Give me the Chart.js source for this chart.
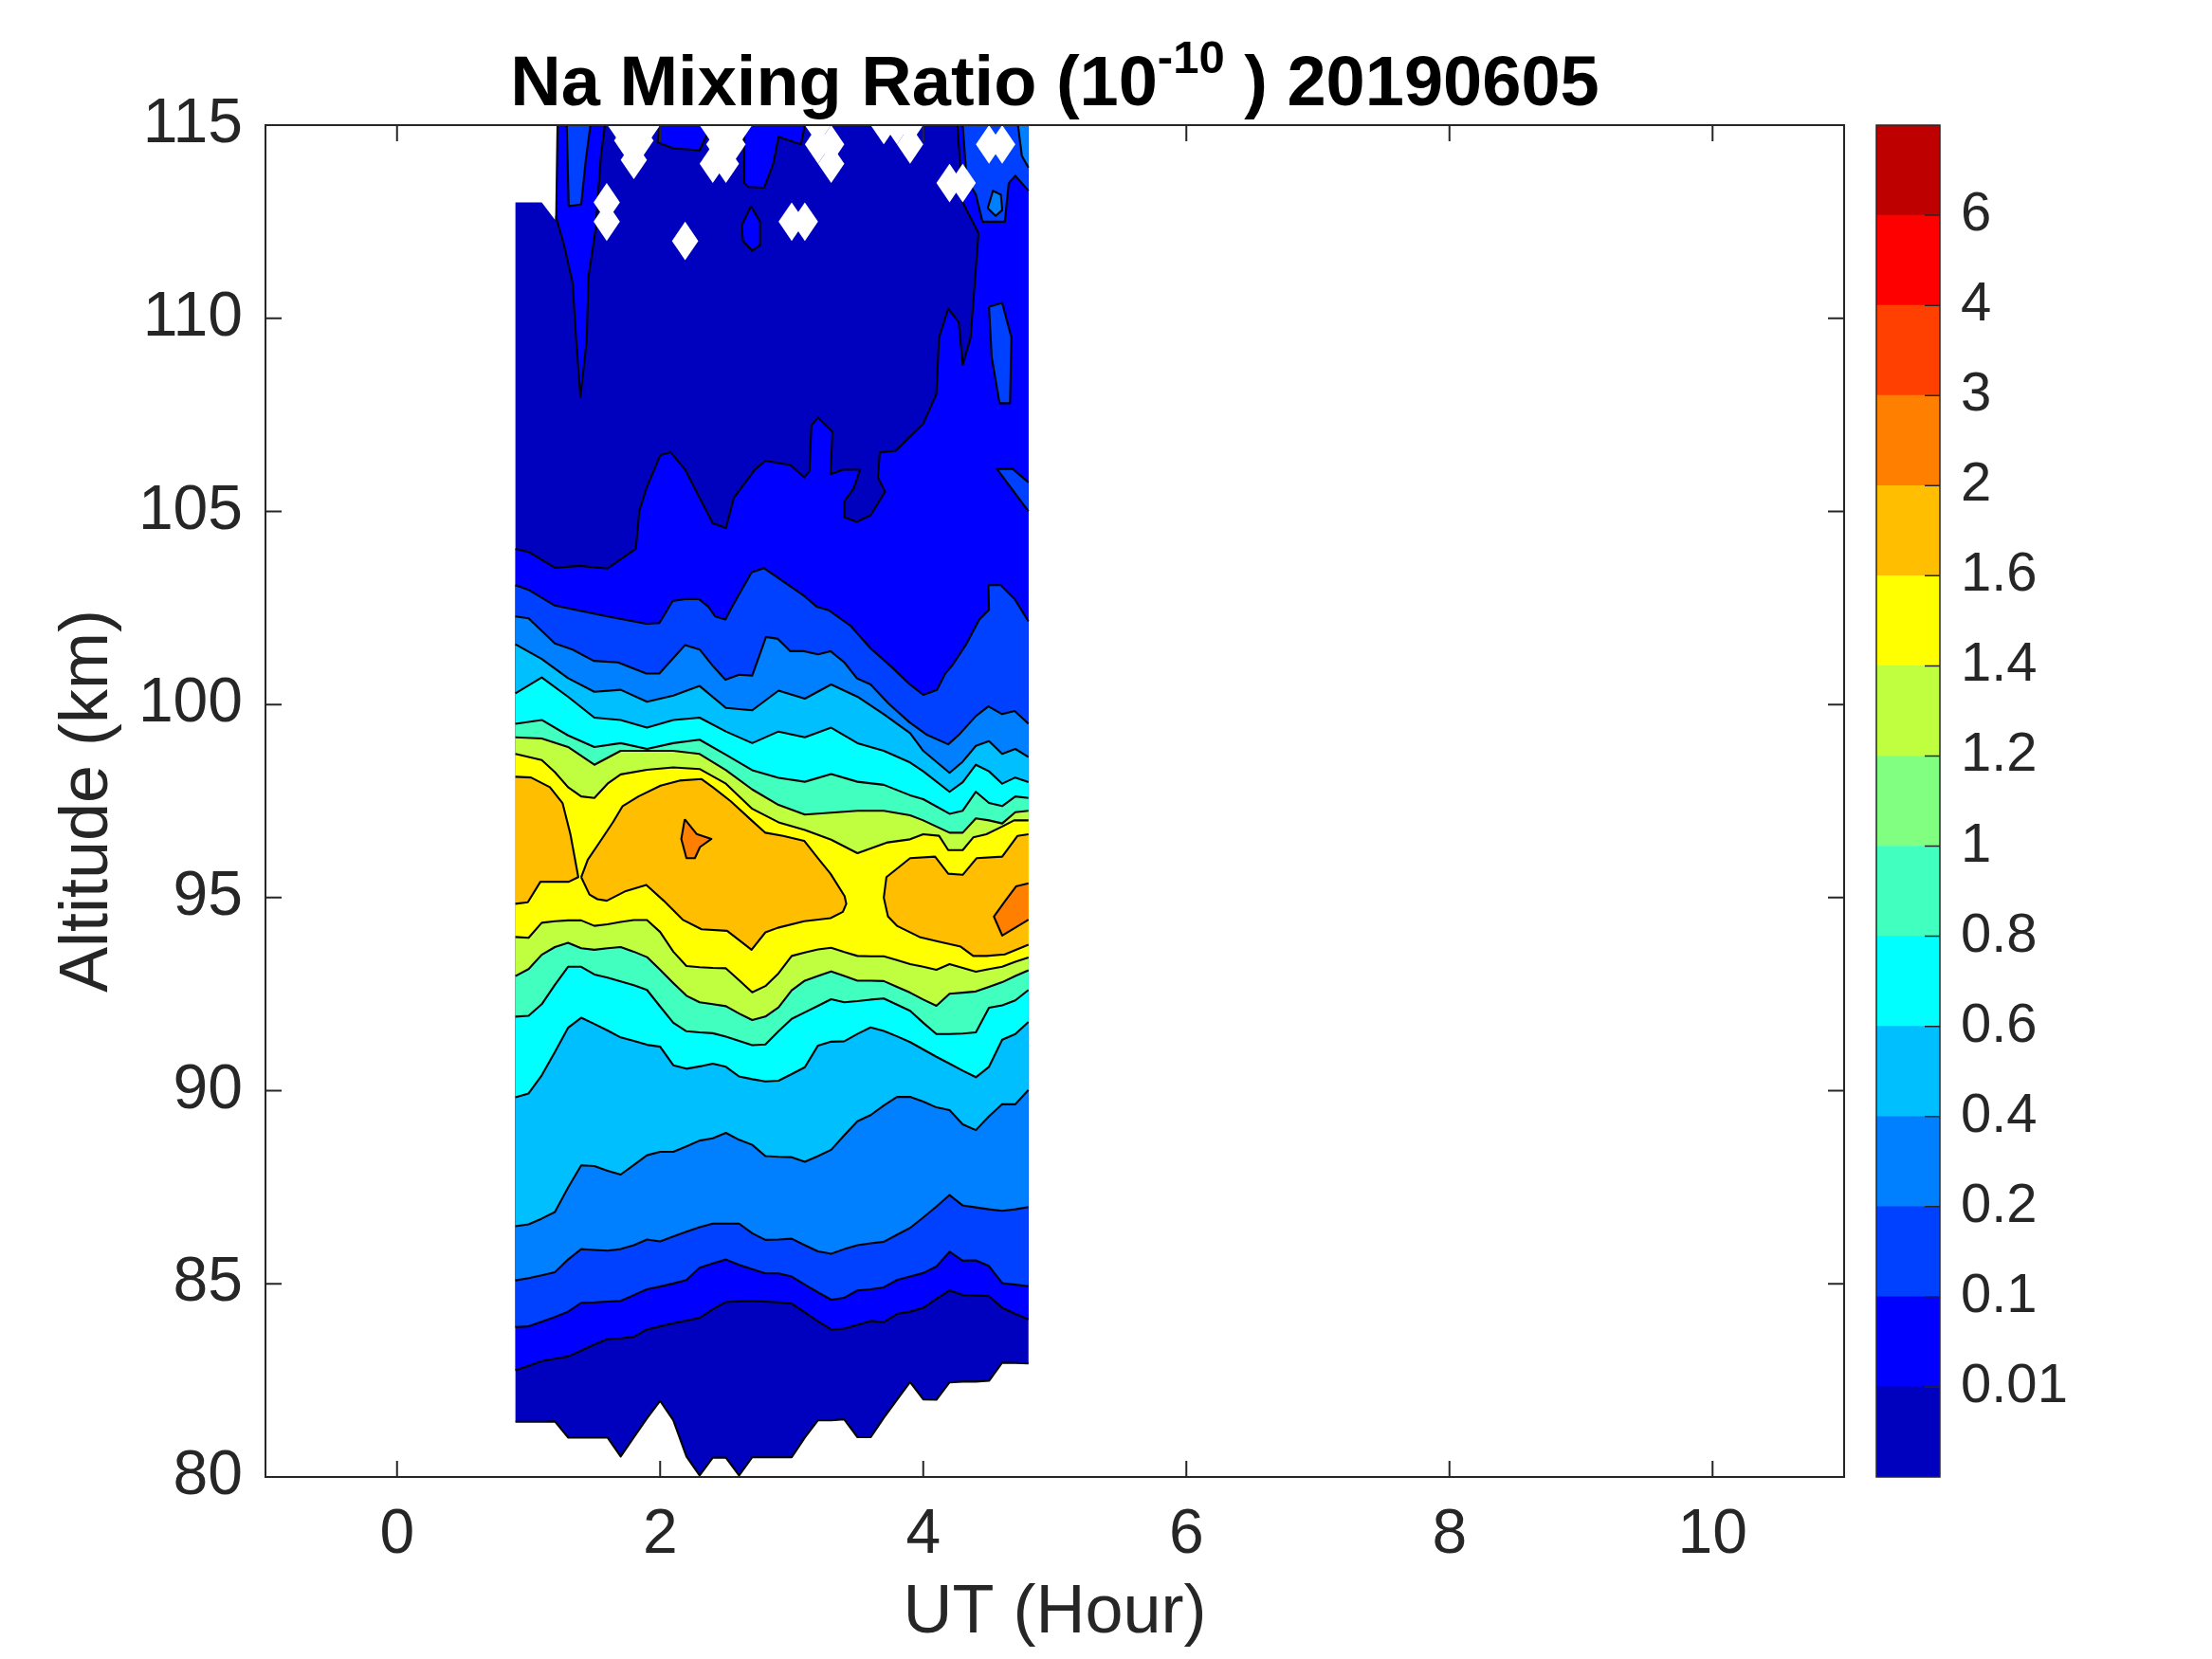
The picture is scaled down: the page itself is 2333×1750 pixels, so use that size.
<!DOCTYPE html>
<html><head><meta charset="utf-8">
<script src="https://cdn.jsdelivr.net/npm/chart.js@4.4.1/dist/chart.umd.min.js"></script>
<style>
html,body{margin:0;padding:0;background:#fff;}
#wrap{position:relative;width:2333px;height:1750px;overflow:hidden;background:#fff;}
canvas{position:absolute;top:0;}
</style></head>
<body><div id="wrap">
<canvas id="main" width="2333" height="1750" style="left:0;width:2333px;height:1750px"></canvas>
<canvas id="cbar" width="373" height="1750" style="left:1960px;width:373px;height:1750px"></canvas>
</div>
<script>
const FONT = "'Liberation Sans', Arial, Helvetica, sans-serif";
const INK = '#262626';

// ---- titles / ticks ----
const titleMain = 'Na Mixing Ratio (10';
const titleSup = '-10';
const titleTail = ' ) 20190605';
const xTitle = 'UT (Hour)';
const yTitle = 'Altitude (km)';
const xTickValues = [0, 2, 4, 6, 8, 10];
const yTickValues = [80, 85, 90, 95, 100, 105, 110, 115];
const levelLabels = ['0.01','0.1','0.2','0.4','0.6','0.8','1','1.2','1.4','1.6','2','3','4','6'];
const colorbarColors = ['#0000bf','#0000ff','#0040ff','#0080ff','#00bfff','#00ffff','#40ffbf','#80ff80','#bfff40','#ffff00','#ffbf00','#ff8000','#ff4000','#ff0000','#bf0000'];
// colours used in the plot for the region at/above each level (0.01, 0.1, 0.2, ... 2)
const regionColors = ['#0000bf','#0000ff','#0040ff','#0080ff','#00bfff','#00ffff','#40ffbf','#bfff40','#ffff00','#ffbf00','#ff8000'];

// ---- contour lines (UT hour, altitude km) ----
const T10 = [0.9,1.0,1.1,1.2,1.3,1.4,1.5,1.6,1.7,1.8,1.9,2.0,2.1,2.2,2.3,2.4,2.5,2.6,2.7,2.8,2.9,3.0,3.1,3.2,3.3,3.4,3.5,3.6,3.7,3.8,3.9,4.0,4.1,4.2,4.3,4.4,4.5,4.6,4.7,4.8];
// lower (rising) side of each level
const lo001 = [81.43,81.43,81.43,81.44,81.02,81.02,81.02,81.02,80.53,81.03,81.52,81.97,81.47,80.53,80.04,80.5,80.5,80.04,80.51,80.51,80.51,80.51,81.02,81.47,81.47,81.49,81.03,81.03,81.53,82.0,82.46,82.01,82.0,82.45,82.47,82.47,82.49,82.96,82.95,82.94];
const lo01 = [82.76,82.88,83.0,83.06,83.12,83.27,83.43,83.57,83.59,83.63,83.82,83.9,83.98,84.05,84.12,84.34,84.53,84.55,84.56,84.54,84.52,84.49,84.26,84.03,83.82,83.84,83.94,84.04,84.01,84.22,84.28,84.38,84.61,84.83,84.71,84.7,84.68,84.38,84.22,84.08];
const lo02 = [83.88,83.9,84.02,84.14,84.28,84.51,84.52,84.54,84.56,84.71,84.86,84.93,85.01,85.1,85.42,85.53,85.63,85.49,85.38,85.27,85.27,85.19,84.98,84.78,84.59,84.64,84.83,84.86,84.91,85.1,85.19,85.28,85.45,85.83,85.6,85.61,85.46,85.02,84.98,84.94];
const lo04 = [85.09,85.15,85.22,85.3,85.63,85.9,85.88,85.86,85.9,86.0,86.15,86.1,86.23,86.35,86.47,86.56,86.56,86.56,86.31,86.14,86.15,86.17,86.0,85.84,85.78,85.9,86.0,86.05,86.09,86.27,86.45,86.72,87.0,87.3,87.03,86.98,86.93,86.89,86.93,86.99];
const lo06 = [86.49,86.54,86.69,86.86,87.49,88.07,88.05,87.93,87.83,88.08,88.33,88.42,88.42,88.56,88.71,88.77,88.91,88.73,88.6,88.31,88.29,88.28,88.16,88.31,88.47,88.85,89.21,89.37,89.62,89.84,89.84,89.72,89.57,89.5,89.13,88.98,89.34,89.65,89.65,90.02];
const lo08 = [89.83,89.93,90.4,91.0,91.63,91.89,91.73,91.56,91.38,91.29,91.19,91.14,90.66,90.57,90.63,90.7,90.62,90.37,90.3,90.24,90.26,90.43,90.61,91.17,91.27,91.28,91.47,91.64,91.55,91.41,91.26,91.07,90.88,90.7,90.52,90.35,90.62,91.32,91.47,91.78];
const lo10 = [91.92,91.94,92.24,92.74,93.21,93.21,93.01,92.93,92.83,92.73,92.61,92.18,91.76,91.54,91.51,91.49,91.4,91.29,91.18,91.2,91.54,91.86,92.03,92.2,92.37,92.29,92.32,92.36,92.39,92.23,92.07,91.76,91.47,91.47,91.48,91.51,92.15,92.21,92.34,92.61];
const lo12 = [92.97,93.15,93.52,93.72,93.83,93.69,93.65,93.69,93.72,93.6,93.46,93.13,92.79,92.46,92.29,92.24,92.19,92.0,91.83,91.92,92.16,92.6,92.85,92.97,93.09,92.97,92.85,92.85,92.84,92.69,92.54,92.36,92.2,92.51,92.54,92.57,92.69,92.81,92.97,93.12];
const lo14 = [93.98,93.96,94.35,94.39,94.41,94.41,94.27,94.31,94.37,94.42,94.42,94.11,93.6,93.23,93.2,93.18,93.17,92.86,92.55,92.71,93.04,93.49,93.58,93.66,93.7,93.59,93.49,93.48,93.48,93.38,93.28,93.21,93.13,93.28,93.18,93.08,93.15,93.21,93.34,93.45];

// upper (falling) side of each level
const dataTopT = [0.9,1.1,1.2,1.22,1.22,4.8];
const dataTopA = [113.0,113.0,112.55,113.0,115,115];
const up01T = [0.9,1.0,1.2,1.39,1.6,1.815,1.842,1.895,2.0,2.08,2.19,2.4,2.5,2.56,2.72,2.8,2.99,3.095,3.135,3.15,3.2,3.31,3.295,3.39,3.52,3.47,3.4,3.4,3.495,3.6,3.71,3.655,3.67,3.79,4.0,4.1,4.12,4.19,4.27,4.3,4.36,4.42,4.36,4.3,4.26,4.8];
const up01A = [104.03,103.95,103.54,103.59,103.52,104.03,105.02,105.59,106.45,106.53,106.08,104.69,104.57,105.35,106.08,106.31,106.2,105.88,106.04,107.23,107.43,107.06,105.96,106.08,106.08,105.59,105.26,104.85,104.73,104.9,105.51,105.88,106.53,106.57,107.27,108.04,109.5,110.25,109.9,108.8,109.5,112.2,112.6,113.0,115,115];
const up02T = [0.9,1.0,1.2,1.6,1.895,1.994,2.095,2.19,2.295,2.367,2.418,2.496,2.547,2.695,2.79,3.095,3.19,3.282,3.45,3.6,3.76,3.885,4.0,4.104,4.169,4.22,4.323,4.426,4.5,4.495,4.589,4.695,4.8];
const up02A = [103.09,102.97,102.56,102.28,102.09,102.11,102.68,102.73,102.73,102.53,102.28,102.2,102.53,103.42,103.53,102.81,102.53,102.44,102.03,101.45,100.97,100.56,100.25,100.38,100.81,101.01,101.54,102.2,102.45,103.09,103.09,102.73,102.15];
const up04T = [0.9,1.0,1.2,1.335,1.495,1.68,1.895,1.994,2.19,2.302,2.4,2.496,2.6,2.7,2.805,2.895,2.99,3.095,3.2,3.295,3.4,3.495,3.6,3.735,3.895,4.03,4.19,4.27,4.4,4.495,4.6,4.695,4.8];
const up04A = [102.28,102.23,101.58,101.42,101.13,101.09,100.8,100.8,101.54,101.42,101.0,100.64,100.77,100.75,101.75,101.7,101.38,101.38,101.3,101.38,101.09,100.68,100.52,100.03,99.54,99.21,98.97,99.21,99.7,99.95,99.75,99.83,99.5];
const upT = [0.9,1.1,1.3,1.5,1.7,1.9,2.1,2.3,2.5,2.7,2.9,3.1,3.3,3.5,3.7,3.9,4.0,4.2,4.3,4.4,4.5,4.6,4.7,4.8];
const up06 = [101.56,101.18,100.68,100.33,100.38,100.07,100.23,100.48,99.91,99.85,100.36,100.15,100.52,100.2,99.75,99.26,98.8,98.23,98.52,98.93,99.05,98.72,98.85,98.64];
const up08 = [100.29,100.7,100.2,99.66,99.6,99.4,99.6,99.66,99.3,99.0,99.3,99.15,99.4,99.0,98.8,98.5,98.27,97.74,97.99,98.44,98.27,97.95,98.11,97.99];
const up10 = [99.5,99.6,99.2,98.9,99.0,98.85,99.0,99.09,98.7,98.3,98.1,98.0,98.2,98.0,97.92,97.65,97.55,97.17,97.25,97.74,97.45,97.37,97.62,97.58];
const up12 = [99.15,99.12,98.9,98.44,98.8,98.8,98.8,98.72,98.3,97.8,97.4,97.15,97.2,97.25,97.25,97.13,97.0,96.68,96.68,97.05,97.0,96.92,97.21,97.25];
const up14T = [0.9,1.1,1.2,1.3,1.4,1.5,1.6,1.7,1.9,2.1,2.3,2.5,2.7,2.9,3.1,3.3,3.5,3.73,3.9,4.0,4.12,4.19,4.3,4.38,4.48,4.6,4.69,4.8];
const up14A = [98.72,98.56,98.25,97.86,97.62,97.58,97.95,98.19,98.31,98.37,98.33,97.95,97.3,96.95,96.75,96.5,96.15,96.43,96.51,96.64,96.6,96.23,96.23,96.56,96.64,96.84,97.0,97.0];

// islands of 1.6 and 2
const blob16aT = [0.9,0.994,1.09,1.306,1.378,1.318,1.258,1.162,1.018,0.9];
const blob16aA = [94.84,94.88,95.41,95.41,95.53,96.64,97.45,97.86,98.11,98.13];
const blob16bT = [1.40,1.463,1.523,1.595,1.739,1.895,2.027,2.171,2.315,2.509,2.695,2.8,2.895,3.095,3.295,3.389,3.415,3.402,3.295,3.2,3.095,2.935,2.8,2.695,2.535,2.4,2.315,2.147,2.003,1.835,1.715,1.643,1.547,1.45];
const blob16bA = [95.53,95.08,94.96,94.92,95.17,95.33,94.92,94.43,94.18,94.14,93.65,94.1,94.22,94.39,94.47,94.63,94.84,95.04,95.62,96.02,96.47,96.6,96.68,97.0,97.5,97.86,98.07,98.03,97.9,97.62,97.37,96.96,96.47,95.98];
const blob16cT = [4.8,4.62,4.48,4.38,4.285,4.117,3.972,3.8,3.732,3.70,3.72,3.9,4.09,4.19,4.3,4.405,4.6,4.717,4.8];
const blob16cA = [93.78,93.53,93.49,93.49,93.73,93.86,93.98,94.27,94.51,95.0,95.53,96.02,96.06,95.62,95.59,96.02,96.06,96.6,96.64];
const spot2aT = [2.187,2.277,2.39,2.303,2.264,2.2,2.161];
const spot2aA = [97.03,96.65,96.52,96.31,96.02,96.02,96.52];
const spot2bT = [4.8,4.6,4.537,4.62,4.705,4.8];
const spot2bA = [94.43,94.02,94.51,94.9,95.29,95.37];

// small patches near the top
const patch01aT = [1.22,1.21,1.27,1.335,1.362,1.389,1.394,1.402,1.442,1.455,1.509,1.549,1.58];
const patch01aA = [115,112.6,111.89,110.91,109.44,108.21,107.96,108.21,109.44,111.07,112.3,114.18,115];
const patch01bT = [2.0,1.98,2.1,2.3,2.39];
const patch01bA = [115,114.55,114.4,114.35,115];
const patch01cT = [2.69,2.76,2.76,2.7,2.63,2.62];
const patch01cA = [112.9,112.5,111.9,111.75,112.0,112.4];
const patch01dT = [2.64,2.64,2.67,2.79,2.86,2.9,3.07,3.1];
const patch01dA = [115,113.5,113.4,113.38,114.0,114.7,114.5,115];
const patch02aT = [1.29,1.305,1.4,1.435,1.47];
const patch02aA = [115,112.9,112.95,114.1,115];
const patch02bT = [4.8,4.3,4.33,4.4,4.45,4.62,4.65,4.7,4.8];
const patch02bA = [115,115,113.6,113.2,112.5,112.5,113.5,113.69,113.3];
const patch02cT = [4.5,4.6,4.67,4.66,4.58,4.52];
const patch02cA = [110.3,110.4,109.5,107.8,107.8,109.0];
const patch02dT = [4.8,4.56,4.68,4.8];
const patch02dA = [105.0,106.1,106.1,105.75];
const patch04aT = [4.49,4.53,4.59,4.6,4.55];
const patch04aA = [112.85,113.3,113.2,112.8,112.65];
const patch04bT = [4.8,4.72,4.75,4.8];
const patch04bA = [115,115,114.2,113.9];

// missing samples (no data)
const gapT =   [1.594,1.594,1.7,1.8,1.9,1.8,1.75,1.85,2.19,2.4,2.5,2.4,2.5,2.6,2.45,2.55,3.0,3.1,3.2,3.2,3.3,3.3,3.7,3.8,3.9,3.9,4.2,4.3,4.5,4.6];
const gapAlt = [113.0,112.5,115,115,115,114.1,114.6,114.6,112.0,114.0,114.0,115,115,115,114.5,114.5,112.5,112.5,115,114.5,114.0,114.5,115,115,115,114.5,113.5,113.5,114.5,114.5];
const GAP_DT = 0.1, GAP_DA = 0.5; // sampling step (h, km)

// ---- build datasets ----
function pts(ts, as) { return ts.map((t, i) => ({x: t, y: as[i]})); }
function band(lt, la, ut, ua) { return pts(lt, la).concat(pts(ut, ua).reverse()); }
function closed(p) { return p.concat([{x: p[0].x, y: p[0].y}]); }

const fillList = [
  [band(T10, lo001, dataTopT, dataTopA), 0],
  [band(T10, lo01, up01T, up01A), 1],
  [pts(patch01aT, patch01aA), 1], [pts(patch01bT, patch01bA), 1], [pts(patch01cT, patch01cA), 1], [pts(patch01dT, patch01dA), 1],
  [band(T10, lo02, up02T, up02A), 2],
  [pts(patch02aT, patch02aA), 2], [pts(patch02bT, patch02bA), 2], [pts(patch02cT, patch02cA), 2], [pts(patch02dT, patch02dA), 2],
  [band(T10, lo04, up04T, up04A), 3],
  [pts(patch04aT, patch04aA), 3], [pts(patch04bT, patch04bA), 3],
  [band(T10, lo06, upT, up06), 4],
  [band(T10, lo08, upT, up08), 5],
  [band(T10, lo10, upT, up10), 6],
  [band(T10, lo12, upT, up12), 7],
  [band(T10, lo14, up14T, up14A), 8],
  [pts(blob16aT, blob16aA), 9], [pts(blob16bT, blob16bA), 9], [pts(blob16cT, blob16cA), 9],
  [pts(spot2aT, spot2aA), 10], [pts(spot2bT, spot2bA), 10]
];
const strokeList = [
  pts(T10, lo001), pts(T10, lo01), pts(up01T, up01A), pts(T10, lo02), pts(up02T, up02A),
  pts(T10, lo04), pts(up04T, up04A), pts(T10, lo06), pts(upT, up06), pts(T10, lo08), pts(upT, up08),
  pts(T10, lo10), pts(upT, up10), pts(T10, lo12), pts(upT, up12), pts(T10, lo14), pts(up14T, up14A),
  closed(pts(patch01aT, patch01aA)), closed(pts(patch01bT, patch01bA)), closed(pts(patch01cT, patch01cA)), closed(pts(patch01dT, patch01dA)),
  closed(pts(patch02aT, patch02aA)), pts(patch02bT, patch02bA), closed(pts(patch02cT, patch02cA)), pts(patch02dT, patch02dA),
  closed(pts(patch04aT, patch04aA)), pts(patch04bT, patch04bA),
  pts(blob16aT, blob16aA), closed(pts(blob16bT, blob16bA)), pts(blob16cT, blob16cA),
  closed(pts(spot2aT, spot2aA)), pts(spot2bT, spot2bA)
];

const datasets = [];
fillList.forEach(([p, k], i) => datasets.push({
  data: p, fill: 'shape', backgroundColor: regionColors[k],
  borderColor: 'rgba(0,0,0,0)', borderWidth: 0, pointRadius: 0, pointHoverRadius: 0,
  tension: 0, order: 1000 - i
}));
strokeList.forEach(p => datasets.push({
  data: p, fill: false, borderColor: '#000', borderWidth: 2.1, borderJoinStyle: 'round',
  pointRadius: 0, pointHoverRadius: 0, tension: 0, order: 0
}));

// ---- plugins ----
const gapsPlugin = {
  id: 'gaps',
  afterDatasetsDraw(chart) {
    const {ctx, chartArea: a, scales: {x, y}} = chart;
    ctx.save();
    ctx.beginPath(); ctx.rect(a.left, a.top, a.right - a.left, a.bottom - a.top); ctx.clip();
    ctx.fillStyle = '#ffffff';
    gapT.forEach((t, i) => {
      const al = gapAlt[i];
      ctx.beginPath();
      ctx.moveTo(x.getPixelForValue(t - GAP_DT), y.getPixelForValue(al));
      ctx.lineTo(x.getPixelForValue(t), y.getPixelForValue(al + GAP_DA));
      ctx.lineTo(x.getPixelForValue(t + GAP_DT), y.getPixelForValue(al));
      ctx.lineTo(x.getPixelForValue(t), y.getPixelForValue(al - GAP_DA));
      ctx.closePath(); ctx.fill();
    });
    ctx.restore();
  }
};
const boxPlugin = {
  id: 'box',
  afterDraw(chart) {
    const {ctx, chartArea: a, scales: {x, y}} = chart;
    ctx.save();
    ctx.strokeStyle = INK; ctx.lineWidth = 2;
    ctx.strokeRect(a.left, a.top, a.right - a.left, a.bottom - a.top);
    ctx.beginPath();
    const L = 17;
    x.ticks.forEach(t => { const px = x.getPixelForValue(t.value);
      ctx.moveTo(px, a.bottom); ctx.lineTo(px, a.bottom - L);
      ctx.moveTo(px, a.top); ctx.lineTo(px, a.top + L); });
    y.ticks.forEach(t => { const py = y.getPixelForValue(t.value);
      ctx.moveTo(a.left, py); ctx.lineTo(a.left + L, py);
      ctx.moveTo(a.right, py); ctx.lineTo(a.right - L, py); });
    ctx.stroke();
    // title with superscript
    const cx = (a.left + a.right) / 2, base = 111;
    const big = 'bold 74px ' + FONT, small = 'bold 49px ' + FONT;
    ctx.fillStyle = '#000'; ctx.textBaseline = 'alphabetic'; ctx.textAlign = 'left';
    ctx.font = big; const w1 = ctx.measureText(titleMain).width, w3 = ctx.measureText(titleTail).width;
    ctx.font = small; const w2 = ctx.measureText(titleSup).width;
    let tx = cx - (w1 + w2 + w3) / 2;
    ctx.font = big; ctx.fillText(titleMain, tx, base); tx += w1;
    ctx.font = small; ctx.fillText(titleSup, tx, base - 34); tx += w2;
    ctx.font = big; ctx.fillText(titleTail, tx, base);
    ctx.restore();
  }
};

new Chart(document.getElementById('main'), {
  type: 'line',
  data: { datasets },
  options: {
    responsive: false, devicePixelRatio: 1, animation: false, events: [],
    layout: { padding: { left: 0, right: 388, top: 132, bottom: 0 } },
    plugins: { legend: { display: false }, tooltip: { enabled: false }, filler: { drawTime: 'beforeDatasetsDraw' } },
    scales: {
      x: {
        type: 'linear', min: -1, max: 11,
        afterBuildTicks: ax => { ax.ticks = xTickValues.map(v => ({ value: v })); },
        afterFit: s => { s.height = 192; },
        grid: { display: false, drawTicks: false }, border: { display: false },
        ticks: { font: { family: FONT, size: 66 }, color: INK, padding: 22, maxRotation: 0, autoSkip: false },
        title: { display: true, text: xTitle, font: { family: FONT, size: 72 }, color: INK, padding: { top: 0, bottom: 5 } }
      },
      y: {
        type: 'linear', min: 80, max: 115,
        afterBuildTicks: ax => { ax.ticks = yTickValues.map(v => ({ value: v })); },
        afterFit: s => { s.width = 280; },
        grid: { display: false, drawTicks: false }, border: { display: false },
        ticks: { font: { family: FONT, size: 66 }, color: INK, padding: 24, autoSkip: false },
        title: { display: true, text: yTitle, font: { family: FONT, size: 72 }, color: INK, padding: { top: 50, bottom: 0 } }
      }
    }
  },
  plugins: [gapsPlugin, boxPlugin]
});

// ---- colour bar ----
const cbarPlugin = {
  id: 'cbarBox',
  afterDraw(chart) {
    const {ctx, chartArea: a, scales: {y}} = chart;
    ctx.save();
    ctx.strokeStyle = INK; ctx.lineWidth = 1.5;
    ctx.strokeRect(a.left, a.top, a.right - a.left, a.bottom - a.top);
    ctx.beginPath();
    y.ticks.forEach(t => { const py = y.getPixelForValue(t.value); ctx.moveTo(a.right, py); ctx.lineTo(a.right - 16, py); });
    ctx.stroke();
    ctx.restore();
  }
};
new Chart(document.getElementById('cbar'), {
  type: 'bar',
  data: {
    labels: [''],
    datasets: colorbarColors.map(c => ({ data: [1], backgroundColor: c, borderWidth: 0, barPercentage: 1, categoryPercentage: 1, stack: 'cb' }))
  },
  options: {
    responsive: false, devicePixelRatio: 1, animation: false, events: [],
    layout: { padding: { left: 19, right: 0, top: 132, bottom: 192 } },
    plugins: { legend: { display: false }, tooltip: { enabled: false } },
    scales: {
      x: { display: false, stacked: true },
      y: {
        position: 'right', stacked: true, min: 0, max: colorbarColors.length,
        afterBuildTicks: ax => { ax.ticks = levelLabels.map((_, i) => ({ value: i + 1 })); },
        afterFit: s => { s.width = 287; },
        grid: { display: false, drawTicks: false }, border: { display: false },
        ticks: { font: { family: FONT, size: 58 }, color: INK, padding: 22, autoSkip: false,
                 callback: v => levelLabels[Math.round(v) - 1] }
      }
    }
  },
  plugins: [cbarPlugin]
});
</script>
</body></html>
